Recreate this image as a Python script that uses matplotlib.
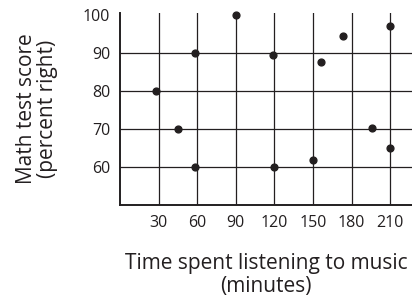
import matplotlib
matplotlib.use("Agg")
import matplotlib.pyplot as plt

plt.rcParams['font.family'] = ['Open Sans', 'DejaVu Sans']

minutes = [28, 45, 58, 58, 90, 119, 120, 150, 156, 173, 196, 210, 210]
scores = [80, 70, 90, 60, 100, 89.5, 60, 62, 87.5, 94.5, 70.3, 65, 97]
x_ticks = [30, 60, 90, 120, 150, 180, 210]
y_ticks = [60, 70, 80, 90, 100]
y_grid = [60, 70, 80, 90]

ink = '#231f20'
fig = plt.figure(figsize=(4.12, 3.02), dpi=100)
ax = fig.add_axes([120/412, 1-205.3/302, 1-120/412, (205.3-12.7)/302])
ax.set_xlim(0, 227)
ax.set_ylim(50, 100.5)

for xv in x_ticks:
    ax.axvline(xv, color=ink, lw=0.9, zorder=1)
for yv in y_grid:
    ax.axhline(yv, color=ink, lw=0.9, zorder=1)

ax.scatter(minutes, scores, s=24, color=ink, zorder=3, clip_on=False)

for s in ['top', 'right']:
    ax.spines[s].set_visible(False)
for s in ['left', 'bottom']:
    ax.spines[s].set_color(ink)
    ax.spines[s].set_linewidth(1.4)

ax.set_xticks(x_ticks)
ax.set_yticks(y_ticks)
ax.tick_params(length=0, labelsize=11.5, colors=ink, pad=7)

ax.set_xlabel('Time spent listening to music\n(minutes)', fontsize=15, color=ink,
              labelpad=16, linespacing=1.1)
ax.set_ylabel('Math test score\n(percent right)', fontsize=15, color=ink,
              labelpad=18, linespacing=1.0)

fig.savefig('out.png', dpi=100)
